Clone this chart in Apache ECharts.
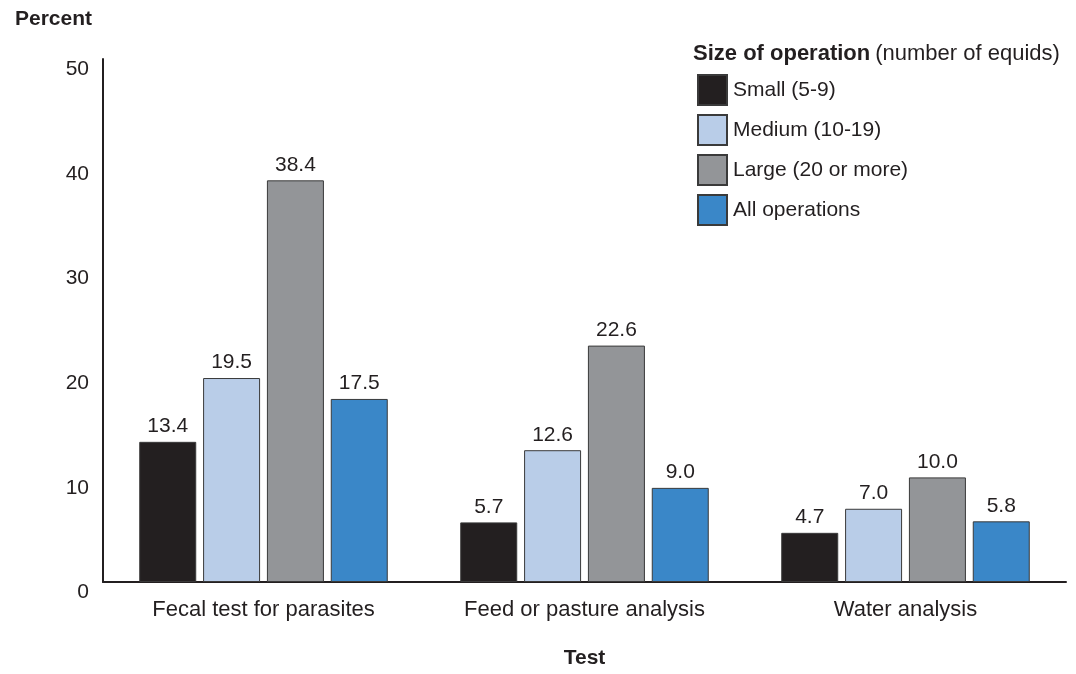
<!DOCTYPE html>
<html>
<head>
<meta charset="utf-8">
<script src="https://cdn.jsdelivr.net/npm/echarts@6/dist/echarts.min.js"></script>
<style>
  html, body { margin: 0; padding: 0; background: #fff; }
  #chart { width: 1076px; height: 674px; }
</style>
</head>
<body>
<div id="chart"></div>
<script>
// categories and series values
const tests = ['Fecal test for parasites', 'Feed or pasture analysis', 'Water analysis'];
const sizeNames = ['Small (5-9)', 'Medium (10-19)', 'Large (20 or more)', 'All operations'];
const small = [13.4, 5.7, 4.7];
const medium = [19.5, 12.6, 7.0];
const large = [38.4, 22.6, 10.0];
const allOps = [17.5, 9.0, 5.8];
const colors = ['#231f20', '#b9cde8', '#939598', '#3a87c8'];

const chart = echarts.init(document.getElementById('chart'));
const textColor = '#231f20';
const fontFamily = 'Liberation Sans, Arial, sans-serif';

const seriesData = [small, medium, large, allOps];
const series = seriesData.map((vals, i) => ({
  name: sizeNames[i],
  type: 'bar',
  data: vals,
  barWidth: 57,
  barGap: '12%',
  itemStyle: { color: colors[i], borderColor: '#3a3a3a', borderWidth: 1 },
  label: {
    show: true,
    position: 'top',
    distance: 5,
    color: textColor,
    fontSize: 21,
    fontFamily,
    formatter: p => p.value.toFixed(1)
  }
}));

const option = {
  animation: false,
  textStyle: { fontFamily },
  grid: { left: 103, right: 10, top: 59, bottom: 92 },
  title: [
    {
      text: 'Percent', left: 10, top: 4,
      textStyle: { fontSize: 21, fontWeight: 'bold', color: textColor, fontFamily }
    },
    {
      text: '{b|Size of operation} {n|(number of equids)}', left: 688, top: 38,
      textStyle: {
        fontWeight: 'normal',
        rich: {
          b: { fontSize: 22, fontWeight: 'bold', color: textColor, fontFamily },
          n: { fontSize: 22, fontWeight: 'normal', color: textColor, fontFamily }
        }
      }
    }
  ],
  legend: {
    orient: 'vertical',
    left: 697, top: 74,
    padding: 0,
    itemWidth: 29, itemHeight: 30, itemGap: 8,
    icon: 'rect',
    data: sizeNames,
    textStyle: { fontSize: 21, color: textColor, fontFamily, padding: [0, 0, 0, 1] }
  },
  xAxis: {
    type: 'category',
    data: tests,
    name: 'Test',
    nameLocation: 'middle',
    nameGap: 66,
    nameTextStyle: { fontSize: 21, fontWeight: 'bold', color: textColor, fontFamily },
    axisLine: { lineStyle: { color: textColor, width: 2 } },
    axisTick: { show: false },
    axisLabel: { fontSize: 22, color: textColor, margin: 17, fontFamily }
  },
  yAxis: {
    type: 'value',
    min: 0, max: 50, interval: 10,
    axisLine: { show: true, lineStyle: { color: textColor, width: 2 } },
    axisTick: { show: false },
    splitLine: { show: false },
    axisLabel: { fontSize: 21, color: textColor, margin: 14, fontFamily, verticalAlign: 'top' }
  },
  series
};

chart.setOption(option);
</script>
</body>
</html>
